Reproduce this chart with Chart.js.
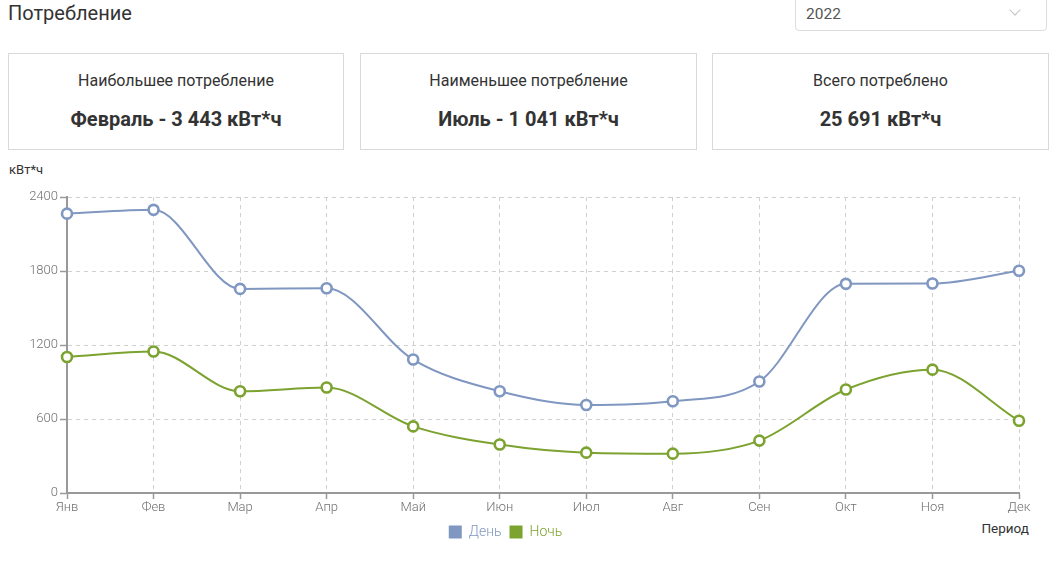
<!DOCTYPE html>
<html>
<head>
<meta charset="utf-8">
<script src="https://cdn.jsdelivr.net/npm/chart.js@4/dist/chart.umd.min.js"></script>
<style>
  html, body { margin:0; padding:0; background:#fff; }
  body { width:1063px; height:575px; position:relative; overflow:hidden; font-family: Roboto, "Noto Sans", sans-serif; color:#333; }
  .title { position:absolute; left:8px; top:0px; font-size:20px; line-height:27px; color:#333; }
  .select { position:absolute; left:795px; top:-6px; width:252px; height:37px; border:1px solid #ddd; border-radius:4px; box-sizing:border-box; }
  .select .val { position:absolute; left:10px; top:8px; font-size:15.5px; line-height:22px; color:#555; }
  .select .chev { position:absolute; left:215px; top:11px; width:7px; height:7px; border-right:1.5px solid #c4c4c4; border-bottom:1.5px solid #c4c4c4; transform:rotate(45deg); }
  .card { position:absolute; top:53px; height:97px; border:1px solid #d9d9d9; box-sizing:border-box; text-align:center; }
  .card .lbl { position:absolute; left:0; right:0; top:16px; font-size:16px; line-height:22px; color:#333; }
  .card .v { position:absolute; left:0; right:0; top:52px; font-size:20px; line-height:26px; font-weight:700; color:#333; }
  .unit { position:absolute; left:9px; top:161px; font-size:13px; line-height:18px; color:#333; }
  .period { position:absolute; right:34px; top:519px; font-size:13.5px; line-height:18px; color:#333; }
  #wrap { position:absolute; left:-8px; top:180px; width:1062px; height:375px; }
</style>
</head>
<body>
<div class="title">Потребление</div>
<div class="select"><span class="val">2022</span><span class="chev"></span></div>
<div class="card" style="left:8px;width:336px;"><div class="lbl">Наибольшее потребление</div><div class="v">Февраль - 3 443 кВт*ч</div></div>
<div class="card" style="left:360px;width:337px;"><div class="lbl">Наименьшее потребление</div><div class="v">Июль - 1 041 кВт*ч</div></div>
<div class="card" style="left:712px;width:337px;"><div class="lbl">Всего потреблено</div><div class="v">25 691 кВт*ч</div></div>
<div class="unit">кВт*ч</div>
<div class="period">Период</div>
<div id="wrap"><canvas id="c"></canvas></div>
<script>
const months = ["Янв","Фев","Мар","Апр","Май","Июн","Июл","Авг","Сен","Окт","Ноя","Дек"];
const dayValues = [2265, 2296, 1655, 1660, 1082, 825, 714, 744, 904, 1696, 1699, 1802];
const nightValues = [1103, 1147, 825, 855, 540, 393, 327, 319, 425, 839, 1000, 586];
const seriesNames = ["День", "Ночь"];
const yTicks = [0, 600, 1200, 1800, 2400];

const dayColor = "#7f97c1";
const nightColor = "#7ca22f";

function ds(label, data, color) {
  return {
    label, data,
    borderColor: color,
    backgroundColor: "#ffffff",
    borderWidth: 2,
    pointRadius: 5,
    pointHoverRadius: 5,
    pointBorderWidth: 2.6,
    pointBackgroundColor: "#ffffff",
    pointBorderColor: color,
    cubicInterpolationMode: "monotone",
    fill: false
  };
}

new Chart(document.getElementById("c"), {
  type: "line",
  data: {
    labels: months,
    datasets: [ds(seriesNames[0], dayValues, dayColor), ds(seriesNames[1], nightValues, nightColor)]
  },
  options: {
    responsive: true,
    maintainAspectRatio: false,
    animation: false,
    layout: { padding: { top: 17, right: 35, bottom: 6, left: 0 } },
    plugins: {
      tooltip: { enabled: false },
      legend: {
        position: "bottom",
        labels: {
          boxWidth: 13, boxHeight: 13, padding: 8,
          font: { family: "Roboto", size: 14, weight: 300 },
          generateLabels(chart) {
            return chart.data.datasets.map((d, i) => ({
              text: d.label,
              fillStyle: d.borderColor,
              strokeStyle: d.borderColor,
              lineWidth: 0,
              fontColor: d.borderColor,
              hidden: false,
              datasetIndex: i
            }));
          }
        }
      }
    },
    scales: {
      x: {
        grid: { color: "#d0d0d0", lineWidth: 1, tickLength: 6, tickColor: "#999", tickWidth: 1.5 },
        border: { color: "#999", width: 2, dash: [4, 4] },
        ticks: { color: "#707070", font: { family: "Roboto", size: 13, weight: 300 }, padding: 1, maxRotation: 0, autoSkip: false },
        afterFit(s) { s.height = 24; }
      },
      y: {
        min: 0, max: 2400,
        afterBuildTicks(s) { s.ticks = yTicks.map(v => ({ value: v })); },
        grid: { color: "#d0d0d0", lineWidth: 1, tickLength: 7, tickColor: "#999", tickWidth: 1.5 },
        border: { color: "#999", width: 2, dash: [4, 4] },
        ticks: { color: "#707070", font: { family: "Roboto", size: 13, weight: 300 }, padding: 2, callback: v => String(v) },
        afterFit(s) { s.width = 75; }
      }
    }
  }
});
</script>
</body>
</html>
